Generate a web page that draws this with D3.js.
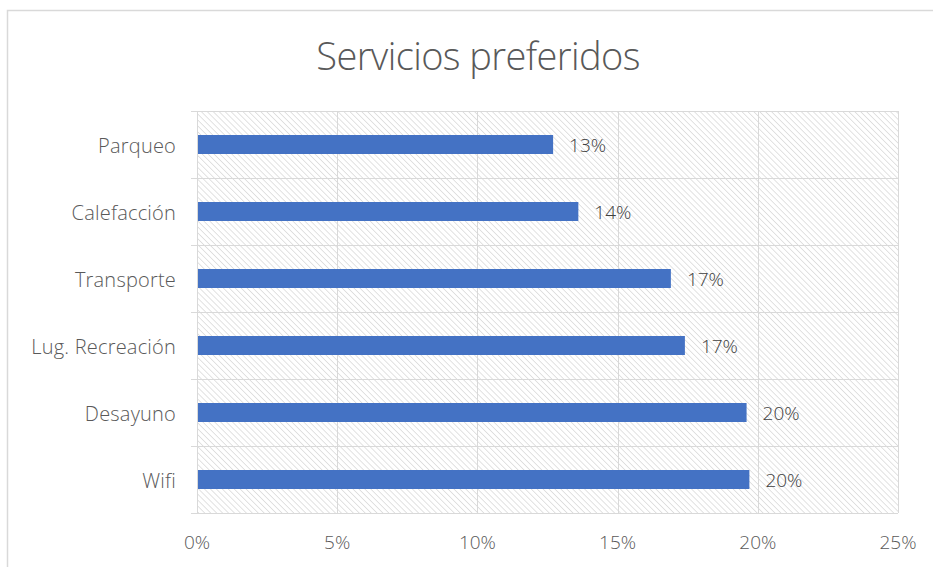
<!DOCTYPE html>
<html><head><meta charset="utf-8">
<script src="https://cdn.jsdelivr.net/npm/d3@7"></script>
<style>html,body{margin:0;padding:0;background:#fff;}svg{display:block;}</style>
</head><body>
<svg id="chart" width="933" height="567"></svg>
<script>
const categories = ["Parqueo", "Calefacción", "Transporte", "Lug. Recreación", "Desayuno", "Wifi"];
const values = [0.127, 0.136, 0.169, 0.174, 0.196, 0.197];
const valueLabels = ["13%", "14%", "17%", "17%", "20%", "20%"];
const tickValues = [0, 0.05, 0.10, 0.15, 0.20, 0.25];
const tickLabels = ["0%", "5%", "10%", "15%", "20%", "25%"];
const title = "Servicios preferidos";

(function () {
const svg = d3.select("#chart");
const font = "'Open Sans', 'Noto Sans', sans-serif";
const pLeft = 197, pRight = 898, pTop = 111, pBottom = 513;

// chart border
svg.append("rect").attr("x", 7.5).attr("y", 10.5).attr("width", 940).attr("height", 600)
  .attr("fill", "#fff").attr("stroke", "#d9d9d9").attr("stroke-width", 1.5);

const defs = svg.append("defs");
const pat = defs.append("pattern").attr("id", "hatch").attr("patternUnits", "userSpaceOnUse")
  .attr("width", 4.2).attr("height", 4.2).attr("patternTransform", "rotate(-45)");
pat.append("line").attr("x1", 0).attr("y1", 0).attr("x2", 0).attr("y2", 4.2)
  .attr("stroke", "#c6c6c6").attr("stroke-width", 1);

const x = d3.scaleLinear().domain([0, 0.25]).range([pLeft, pRight]);
const y = d3.scaleBand().domain(categories).range([pTop, pBottom]).paddingInner(0).paddingOuter(0);

svg.append("rect").attr("x", pLeft).attr("y", pTop).attr("width", pRight - pLeft).attr("height", pBottom - pTop)
  .attr("fill", "url(#hatch)");

// vertical gridlines
svg.append("g").selectAll("line").data(tickValues).join("line")
  .attr("x1", d => Math.round(x(d)) + 0.5).attr("x2", d => Math.round(x(d)) + 0.5)
  .attr("y1", pTop).attr("y2", pBottom)
  .attr("stroke", "#d9d9d9").attr("stroke-width", 1);

// horizontal category lines
const hLines = categories.map(c => y(c)).concat([pBottom]);
svg.append("g").selectAll("line").data(hLines).join("line")
  .attr("x1", pLeft - 6).attr("x2", pRight)
  .attr("y1", d => Math.round(d) + 0.5).attr("y2", d => Math.round(d) + 0.5)
  .attr("stroke", "#d9d9d9").attr("stroke-width", 1);

// bars
const barH = 19;
svg.append("g").selectAll("rect").data(categories).join("rect")
  .attr("x", x(0) + 1)
  .attr("y", c => y(c) + y.bandwidth() / 2 - barH / 2)
  .attr("width", (c, i) => x(values[i]) - x(0) - 1)
  .attr("height", barH)
  .attr("fill", "#4472c4");

// value labels
svg.append("g").selectAll("text").data(categories).join("text")
  .attr("x", (c, i) => x(values[i]) + 16)
  .attr("y", c => y(c) + y.bandwidth() / 2 + 1)
  .attr("dy", "0.35em")
  .attr("font-family", font).attr("font-size", 19).attr("font-weight", 300)
  .attr("fill", "#404040")
  .text((c, i) => valueLabels[i]);

// category labels
svg.append("g").selectAll("text").data(categories).join("text")
  .attr("x", 176)
  .attr("y", c => y(c) + y.bandwidth() / 2 + 1)
  .attr("dy", "0.35em")
  .attr("text-anchor", "end")
  .attr("font-family", font).attr("font-size", 20).attr("font-weight", 300)
  .attr("letter-spacing", "0.2").attr("fill", "#595959")
  .text(c => c);

// x tick labels
svg.append("g").selectAll("text").data(tickValues).join("text")
  .attr("x", d => x(d))
  .attr("y", 542).attr("dy", "0.35em")
  .attr("text-anchor", "middle")
  .attr("font-family", font).attr("font-size", 19).attr("font-weight", 300)
  .attr("fill", "#595959")
  .text((d, i) => tickLabels[i]);

// title
svg.append("text").attr("x", 478).attr("y", 70)
  .attr("text-anchor", "middle")
  .attr("font-family", font).attr("font-size", 38).attr("font-weight", 300)
  .attr("fill", "#595959")
  .attr("letter-spacing", "-0.6")
  .text(title);
})();
</script>
</body></html>
